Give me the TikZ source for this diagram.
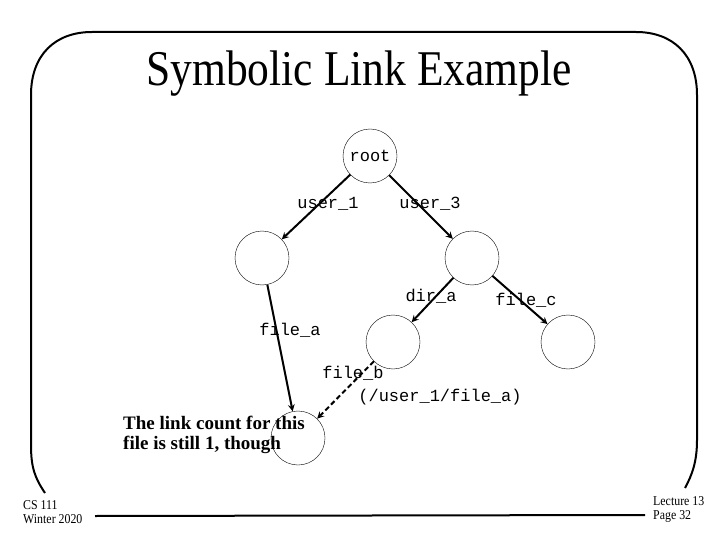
\documentclass[tikz,border=0pt]{standalone}
\usepackage{fontspec}
\setmainfont{Liberation Serif}
\setmonofont{Liberation Mono}
\newfontfamily\narrowserif[FakeStretch=0.87]{Liberation Serif}
\newfontfamily\footserif[FakeStretch=0.88]{Liberation Serif}
\usetikzlibrary{positioning}
\tikzstyle{dirnode}=[circle, draw=black, thin, minimum size=54pt, inner sep=0pt]
\tikzstyle{lbl}=[font=\fontsize{17}{18}\selectfont\ttfamily, inner sep=0pt]
\tikzstyle{footer}=[font=\footserif\fontsize{13.5}{14}\selectfont, align=left,
  anchor=west, inner sep=0pt]
\tikzstyle{arrlink}=[->, >=stealth, line width=2pt, draw=black]
\tikzstyle{arrsym}=[arrlink, dashed, dash pattern=on 5pt off 3pt]
\tikzstyle{frame}=[line width=2pt, draw=black]

\begin{document}
\begin{tikzpicture}[x=1pt, y=-1pt]
\useasboundingbox (0,0) rectangle (720,540);

% slide frame
\draw[frame] (45,493) .. controls (35,478) and (31,468) .. (31,445)
  -- (31,95) .. controls (31,55) and (55,32) .. (92,32) -- (636,32)
  .. controls (673,32) and (697,55) .. (697,95) -- (697,440)
  .. controls (697,462) and (692,475) .. (685,488);
\draw[frame] (95,516) -- (645,515);

\node[font=\narrowserif\fontsize{50}{54}\selectfont] (title) at (359,74) {Symbolic Link Example};

% directory tree
\node[dirnode, font=\fontsize{17}{18}\selectfont\ttfamily] (root) at (370,156) {root};
\node[dirnode] (user1) at (262,258) {};
\node[dirnode] (user3) at (472,258) {};
\node[dirnode] (dira) at (393,342) {};
\node[dirnode] (filec) at (568,342) {};
\node[dirnode] (filea) at (298,438) {};

\draw[arrlink] (root) -- (user1);
\draw[arrlink] (root) -- (user3);
\draw[arrlink] (user3) -- (dira);
\draw[arrlink] (user3) -- (filec);
\draw[arrlink] (user1) -- (filea);
\draw[arrsym] (dira) -- (filea);

\node[lbl] (luser1) at (328,204) {user\_1};
\node[lbl] (luser3) at (430,204) {user\_3};
\node[lbl] (ldira) at (431,296) {dir\_a};
\node[lbl] (lfilec) at (526,300) {file\_c};
\node[lbl] (lfilea) at (290,330) {file\_a};
\node[lbl] (lfileb) at (353,373) {file\_b};
\node[lbl] (ltarget) at (440,397) {(/user\_1/file\_a)};

\node[font=\bfseries\fontsize{19}{20}\selectfont, align=left, anchor=west, inner sep=0pt]
  (note) at (123,435) {The link count for this\\file is still 1, though};

% footer
\node[footer] (course) at (23,512) {CS 111\\Winter 2020};
\node[footer] (page) at (653,509) {Lecture 13\\Page 32};
\end{tikzpicture}
\end{document}
